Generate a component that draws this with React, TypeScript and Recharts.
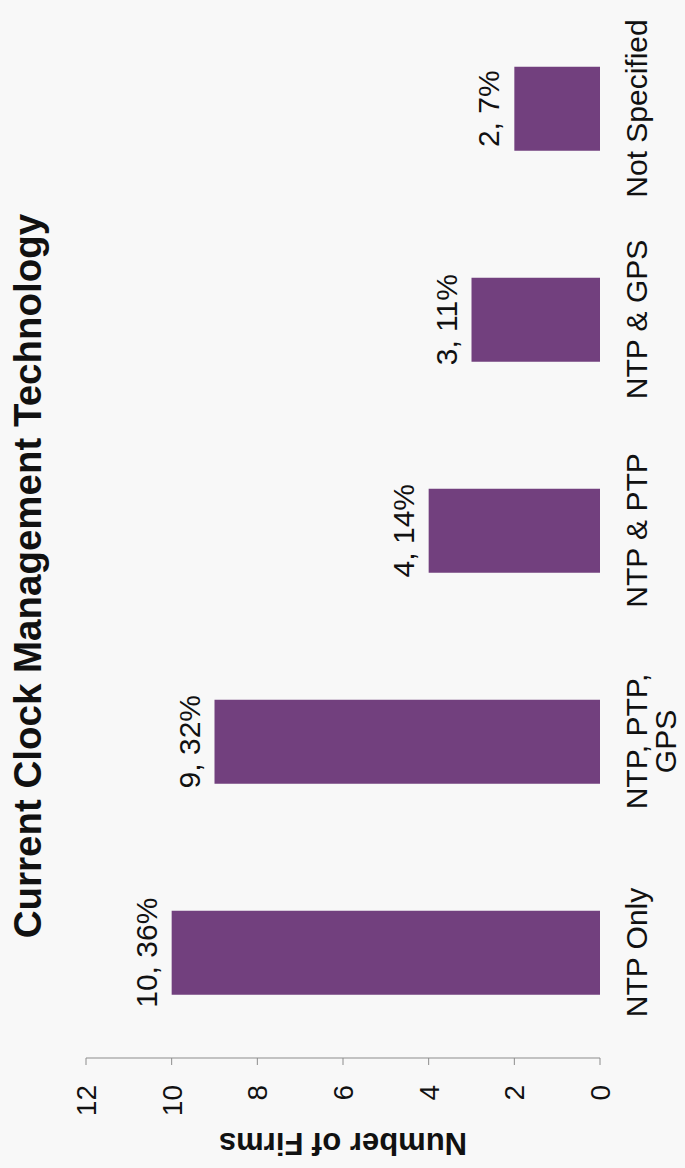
import React from "react";
import { BarChart, Bar, XAxis, YAxis, LabelList } from "recharts";

const categories = ["NTP Only", "NTP, PTP, GPS", "NTP & PTP", "NTP & GPS", "Not Specified"];
const categoryLines = [["NTP Only"], ["NTP, PTP,", "GPS"], ["NTP & PTP"], ["NTP & GPS"], ["Not Specified"]];
const firmCounts = [10, 9, 4, 3, 2];
const firmShares = [36, 32, 14, 11, 7];
const valueTicks = [0, 2, 4, 6, 8, 10, 12];
const boundaryTicks = [0, 1, 2, 3, 4, 5];

const data = categories.map((name, i) => ({
  name,
  firms: firmCounts[i],
  label: `${firmCounts[i]}, ${firmShares[i]}%`,
}));

const FONT = "Arial, 'Liberation Sans', sans-serif";
const AXIS = "#8c8c8c";
const BAR = "#72407e";
const INK = "#111111";

function CategoryTick({ x, y, payload }: any) {
  const lines = categoryLines[categories.indexOf(payload.value)] || [payload.value];
  return (
    <text x={x} y={y} textAnchor="middle" fill={INK} fontSize={30} fontFamily={FONT}>
      {lines.map((line, i) => (
        <tspan key={i} x={x} dy={i === 0 ? "0.72em" : 29}>
          {line}
        </tspan>
      ))}
    </text>
  );
}

export default function App() {
  return (
    <div
      style={{
        position: "absolute",
        left: 0,
        top: 0,
        width: 685,
        height: 1168,
        overflow: "hidden",
        background: "#f8f8f8",
      }}
    >
      {/* the scan is a normal column chart turned 90deg counter-clockwise */}
      <div
        style={{
          position: "absolute",
          left: 0,
          top: 0,
          width: 1168,
          height: 685,
          transformOrigin: "0 0",
          transform: "translateY(1168px) rotate(-90deg)",
        }}
      >
        <div
          style={{
            position: "absolute",
            left: 16,
            width: 1152,
            top: 9,
            textAlign: "center",
            fontFamily: FONT,
            fontWeight: "bold",
            fontSize: 38.5,
            lineHeight: "38.5px",
            color: INK,
            whiteSpace: "nowrap",
          }}
        >
          Current Clock Management Technology
        </div>
        <BarChart
          width={1168}
          height={685}
          data={data}
          margin={{ top: 86, right: 3, bottom: 5, left: 0 }}
          barCategoryGap="30%"
        >
          <XAxis
            xAxisId="bounds"
            type="number"
            domain={[0, 5]}
            ticks={boundaryTicks}
            allowDataOverflow
            tick={false}
            tickSize={7}
            height={0}
            stroke={AXIS}
          />
          <XAxis
            xAxisId="cat"
            dataKey="name"
            type="category"
            axisLine={false}
            tickLine={false}
            tickSize={0}
            tickMargin={25}
            height={80}
            interval={0}
            tick={<CategoryTick />}
          />
          <YAxis
            type="number"
            domain={[0, 12]}
            ticks={valueTicks}
            width={110}
            tickSize={7}
            tickMargin={20}
            stroke={AXIS}
            tick={{ fill: INK, fontSize: 28, fontFamily: FONT }}
            label={{
              value: "Number of Firms",
              angle: -90,
              position: "insideLeft",
              offset: 24,
              style: { textAnchor: "middle", fontWeight: "bold", fontSize: 31, fontFamily: FONT, fill: INK },
            }}
          />
          <Bar xAxisId="cat" dataKey="firms" fill={BAR} isAnimationActive={false}>
            <LabelList dataKey="label" position="top" offset={15} fill={INK} fontSize={30} fontFamily={FONT} />
          </Bar>
        </BarChart>
      </div>
    </div>
  );
}
